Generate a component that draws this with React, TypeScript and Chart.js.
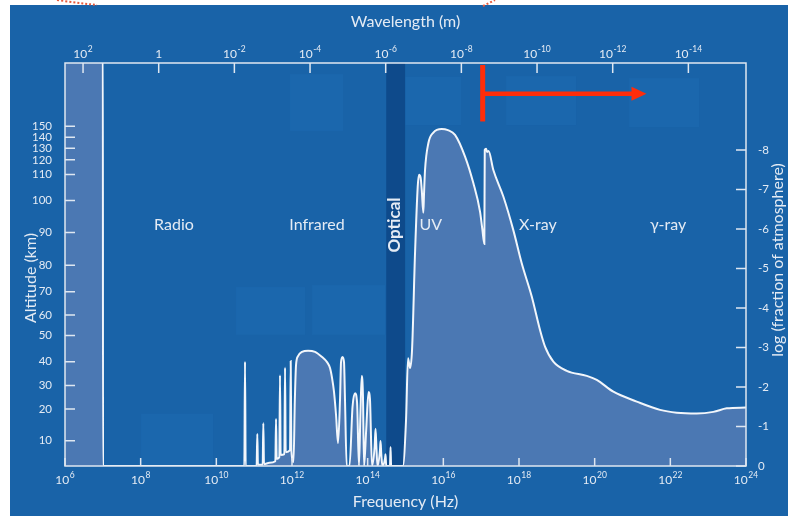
import React, { useEffect, useRef } from "react";
import { Chart, registerables } from "chart.js";

Chart.register(...registerables);

// ---------------- data ----------------
// log10 of frequency (Hz)
const logFrequency: number[] = [
  6.0, 7.0, 7.005, 10.74, 10.758, 10.776, 11.065, 11.083, 11.1, 11.225,
  11.242, 11.26, 11.4, 11.56, 11.578, 11.596, 11.665, 11.683, 11.7, 11.798,
  11.816, 11.834, 11.948, 11.966, 11.984, 12.04, 12.075, 12.107, 12.159, 12.265,
  12.424, 12.609, 12.794, 12.926, 13.005, 13.058, 13.111, 13.164, 13.217, 13.269,
  13.296, 13.335, 13.375, 13.401, 13.446, 13.52, 13.6, 13.666, 13.72, 13.77,
  13.81, 13.843, 13.875, 13.905, 13.96, 14.023, 14.06, 14.115, 14.185, 14.208,
  14.23, 14.26, 14.325, 14.34, 14.36, 14.39, 14.46, 14.472, 14.49, 14.59,
  14.605, 14.62, 14.93, 15.014, 15.067, 15.12, 15.173, 15.252, 15.323, 15.358,
  15.4, 15.429, 15.471, 15.49, 15.516, 15.604, 15.736, 15.958, 16.12, 16.309,
  16.574, 16.793, 16.97, 17.03, 17.084, 17.095, 17.129, 17.155, 17.195, 17.322,
  17.586, 17.85, 18.072, 18.337, 18.556, 18.688, 18.908, 19.262, 19.791, 20.055,
  20.494, 21.112, 21.728, 22.17, 22.698, 23.137, 23.492, 24.0,
];
// log10 of the fraction of the atmosphere above the absorbing altitude
const logFraction: number[] = [
  -11, -11, 0, 0, -2.64, 0, 0, -0.81, -0.03, -0.03,
  -1.08, -0.05, -0.08, -0.12, -1.19, -0.18, -0.22, -2.3, -0.28, -0.3,
  -2.49, -0.35, -0.4, -2.66, -0.4, -0.1, -1.67, -2.56, -2.78, -2.89,
  -2.92, -2.89, -2.76, -2.63, -2.48, -2.23, -1.87, -1.29, -0.58, -1.67,
  -2.63, -2.76, -2.63, -1.67, 0, 0, -1.5, -1.84, -1.6, 0,
  -1.4, -2.28, -1.8, 0, -0.9, -1.87, -1.7, 0, -0.5, -0.94,
  -0.5, 0, -0.4, -0.63, -0.3, 0, -0.2, -0.3, 0, 0,
  -0.48, 0, 0, -1.16, -2.73, -2.48, -2.94, -5.39, -7.07, -7.37,
  -7.3, -7.0, -6.41, -6.9, -7.49, -8.17, -8.44, -8.53, -8.5, -8.38,
  -7.83, -7.16, -6.44, -6.0, -5.62, -8.0, -8.03, -7.95, -7.97, -7.49,
  -6.82, -5.97, -5.13, -4.29, -3.44, -3.02, -2.64, -2.41, -2.28, -2.18,
  -1.88, -1.63, -1.42, -1.35, -1.33, -1.37, -1.46, -1.48,
];

const frequencyTickExponents = [6, 8, 10, 12, 14, 16, 18, 20, 22, 24];
const wavelengthTickExponents = [2, 0, -2, -4, -6, -8, -10, -12, -14];
const LOG_C = Math.log10(2.998e8);
const fractionTicks = [-8, -7, -6, -5, -4, -3, -2, -1, 0];
const altitudeTickLabels = [10, 20, 30, 40, 50, 60, 70, 80, 90, 100, 110, 120, 130, 140, 150];
const altitudeTickPositions = [
  -0.64, -1.44, -2.04, -2.64, -3.3, -3.82, -4.41, -5.08, -5.91, -6.72, -7.38, -7.75, -8.04, -8.32, -8.6,
];

const regionNames = ["Radio", "Infrared", "UV", "X-ray", "γ-ray"];
const regionLogFrequency = [8.88, 12.66, 15.67, 18.5, 21.94];
const regionLevel = -6.1;
const opticalBand = [14.49, 14.99];
const opticalLabelLogFrequency = 14.72;

const arrowStartLogFreq = 17.04;
const arrowEndLogFreq = 21.37;
const arrowLevel = -9.42;
const arrowBarBottom = -8.72;

// faint leftover boxes (decoration), in axis units
const faintBoxFreq = [
  [11.948, 13.349], [14.988, 16.468], [17.657, 19.508], [20.909, 22.759],
  [10.52, 12.344], [12.529, 14.459], [8.009, 9.912],
];
const faintBoxLevel = [
  [-9.92, -8.48], [-9.85, -8.63], [-9.87, -8.63], [-9.82, -8.58],
  [-4.53, -3.32], [-4.58, -3.32], [-1.32, 0],
];

// ---------------- style ----------------
const FONT = "Lato, 'Open Sans', sans-serif";
const BG = "#1963a8";
const BOX = "#1b67ad";
const FILL = "#4b78b3";
const BAND = "#0e4a8b";
const TEXT = "#e4ebf4";
const AXIS = "#dfe7f1";
const LINE = "#f2f6fb";
const RED = "#ff2d0a";

const SUP_RAISE = 6;

const backgroundPlugin = {
  id: "bgPanel",
  beforeDraw(chart: any) {
    const { ctx, width, height, chartArea: ca, scales } = chart;
    const xs = scales.x;
    const ys = scales.y;
    ctx.save();
    ctx.fillStyle = "#ffffff";
    ctx.fillRect(0, 0, width, height);
    ctx.fillStyle = BG;
    ctx.fillRect(10, 5, width - 10, height - 5);
    ctx.fillStyle = BOX;
    faintBoxFreq.forEach((f, i) => {
      const x1 = xs.getPixelForValue(f[0]);
      const x2 = xs.getPixelForValue(f[1]);
      const y1 = ys.getPixelForValue(faintBoxLevel[i][0]);
      const y2 = ys.getPixelForValue(faintBoxLevel[i][1]);
      ctx.fillRect(Math.min(x1, x2), Math.min(y1, y2), Math.abs(x2 - x1), Math.abs(y2 - y1));
    });
    const b1 = xs.getPixelForValue(opticalBand[0]);
    const b2 = xs.getPixelForValue(opticalBand[1]);
    ctx.fillStyle = BAND;
    ctx.fillRect(b1, ca.top, b2 - b1, ca.bottom - ca.top);
    // red dotted fragments in the margin
    ctx.strokeStyle = "#e85a3c";
    ctx.lineWidth = 2;
    ctx.setLineDash([2, 2]);
    ctx.beginPath();
    ctx.moveTo(57, 0);
    ctx.quadraticCurveTo(78, 3, 97, 5);
    ctx.moveTo(483, 6);
    ctx.lineTo(495, 0);
    ctx.stroke();
    ctx.restore();
  },
};

const overlayPlugin = {
  id: "overlay",
  afterDatasetsDraw(chart: any) {
    const { ctx, chartArea: ca, scales } = chart;
    const xs = scales.x;
    const xt = scales.x2;
    const yr = scales.y;
    const yl = scales.yAlt;
    ctx.save();

    // frame
    ctx.strokeStyle = AXIS;
    ctx.lineWidth = 1.5;
    ctx.strokeRect(ca.left, ca.top, ca.right - ca.left, ca.bottom - ca.top);

    // inward tick marks
    ctx.beginPath();
    xs.ticks.forEach((t: any) => {
      const p = xs.getPixelForValue(t.value);
      ctx.moveTo(p, ca.bottom);
      ctx.lineTo(p, ca.bottom - 8);
    });
    xt.ticks.forEach((t: any) => {
      const p = xt.getPixelForValue(t.value);
      ctx.moveTo(p, ca.top);
      ctx.lineTo(p, ca.top + 10);
    });
    yl.ticks.forEach((t: any) => {
      const p = yl.getPixelForValue(t.value);
      ctx.moveTo(ca.left, p);
      ctx.lineTo(ca.left + 10, p);
    });
    yr.ticks.forEach((t: any) => {
      const p = yr.getPixelForValue(t.value);
      ctx.moveTo(ca.right - 10, p);
      ctx.lineTo(ca.right, p);
    });
    ctx.stroke();

    // power-of-ten labels
    ctx.fillStyle = TEXT;
    const drawPow = (base: string, exp: string, cx: number, baseline: number) => {
      ctx.font = `12px ${FONT}`;
      const wb = ctx.measureText(base).width;
      ctx.font = `8.5px ${FONT}`;
      const we = exp ? ctx.measureText(exp).width + 0.5 : 0;
      const start = cx - (wb + we) / 2;
      ctx.textAlign = "left";
      ctx.textBaseline = "alphabetic";
      ctx.font = `12px ${FONT}`;
      ctx.fillText(base, start, baseline);
      if (exp) {
        ctx.font = `8.5px ${FONT}`;
        ctx.fillText(exp, start + wb + 0.5, baseline - SUP_RAISE);
      }
    };
    xs.ticks.forEach((t: any, i: number) => {
      drawPow("10", String(frequencyTickExponents[i]), xs.getPixelForValue(t.value), ca.bottom + 18);
    });
    xt.ticks.forEach((t: any, i: number) => {
      const e = wavelengthTickExponents[i];
      drawPow(e === 0 ? "1" : "10", e === 0 ? "" : String(e), xt.getPixelForValue(t.value), ca.top - 5);
    });

    // region labels
    ctx.textAlign = "center";
    ctx.textBaseline = "middle";
    ctx.font = `16px ${FONT}`;
    regionNames.forEach((n, i) => {
      ctx.fillText(n, xs.getPixelForValue(regionLogFrequency[i]), yr.getPixelForValue(regionLevel));
    });
    ctx.save();
    ctx.translate(xs.getPixelForValue(opticalLabelLogFrequency), yr.getPixelForValue(regionLevel));
    ctx.rotate(-Math.PI / 2);
    ctx.font = `bold 17px ${FONT}`;
    ctx.fillText("Optical", 0, 0);
    ctx.restore();

    // axis titles
    ctx.font = `16px ${FONT}`;
    const midX = (ca.left + ca.right) / 2;
    ctx.fillText("Wavelength (m)", midX, 22);
    ctx.fillText("Frequency (Hz)", midX, 502);
    ctx.save();
    ctx.translate(31, 278);
    ctx.rotate(-Math.PI / 2);
    ctx.fillText("Altitude (km)", 0, 0);
    ctx.restore();
    ctx.save();
    ctx.translate(778, 260);
    ctx.rotate(-Math.PI / 2);
    ctx.fillText("log (fraction of atmosphere)", 0, 0);
    ctx.restore();

    // red arrow
    const ax = xs.getPixelForValue(arrowStartLogFreq);
    const ay = yr.getPixelForValue(arrowLevel);
    const abot = yr.getPixelForValue(arrowBarBottom);
    const atip = xs.getPixelForValue(arrowEndLogFreq);
    ctx.strokeStyle = RED;
    ctx.fillStyle = RED;
    ctx.lineWidth = 5;
    ctx.beginPath();
    ctx.moveTo(ax, ca.top + 2);
    ctx.lineTo(ax, abot);
    ctx.stroke();
    ctx.lineWidth = 4.5;
    ctx.beginPath();
    ctx.moveTo(ax, ay);
    ctx.lineTo(atip - 12, ay);
    ctx.stroke();
    ctx.beginPath();
    ctx.moveTo(atip, ay);
    ctx.lineTo(atip - 15, ay - 7);
    ctx.lineTo(atip - 15, ay + 7);
    ctx.closePath();
    ctx.fill();

    ctx.restore();
  },
};

export default function App() {
  const ref = useRef<HTMLCanvasElement>(null);

  useEffect(() => {
    const canvas = ref.current;
    if (!canvas) return;
    const points = logFrequency.map((x, i) => ({ x, y: logFraction[i] }));
    const tickFont = { family: FONT, size: 11.5 };
    const chart = new Chart(canvas, {
      type: "line",
      data: {
        datasets: [
          {
            data: points,
            borderColor: LINE,
            borderWidth: 2,
            backgroundColor: FILL,
            fill: "origin",
            pointRadius: 0,
            cubicInterpolationMode: "monotone",
            xAxisID: "x",
            yAxisID: "y",
            clip: 0,
          } as any,
        ],
      },
      options: {
        responsive: false,
        animation: false,
        events: [],
        layout: { padding: 0 },
        plugins: { legend: { display: false }, tooltip: { enabled: false } },
        scales: {
          x: {
            type: "linear",
            position: "bottom",
            min: 6,
            max: 24,
            afterBuildTicks: (s: any) => {
              s.ticks = frequencyTickExponents.map((v) => ({ value: v }));
            },
            afterFit: (s: any) => {
              s.height = 50;
            },
            ticks: { display: false },
            grid: { display: false },
            border: { display: false },
          },
          x2: {
            type: "linear",
            position: "top",
            min: 6,
            max: 24,
            afterBuildTicks: (s: any) => {
              s.ticks = wavelengthTickExponents.map((e) => ({ value: LOG_C - e }));
            },
            afterFit: (s: any) => {
              s.height = 63;
            },
            ticks: { display: false },
            grid: { display: false },
            border: { display: false },
          },
          y: {
            type: "linear",
            position: "right",
            min: -10.2,
            max: 0,
            reverse: true,
            afterBuildTicks: (s: any) => {
              s.ticks = fractionTicks.map((v) => ({ value: v }));
            },
            afterFit: (s: any) => {
              s.width = 42;
            },
            ticks: {
              color: TEXT,
              font: tickFont,
              padding: 4,
              autoSkip: false,
              callback: (v: any) => String(v),
            },
            grid: { display: false },
            border: { display: false },
          },
          yAlt: {
            type: "linear",
            position: "left",
            min: -10.2,
            max: 0,
            reverse: true,
            afterBuildTicks: (s: any) => {
              s.ticks = altitudeTickPositions.map((v) => ({ value: v }));
            },
            afterFit: (s: any) => {
              s.width = 65;
            },
            ticks: {
              color: TEXT,
              font: tickFont,
              padding: 5,
              autoSkip: false,
              callback: (_v: any, i: number) => String(altitudeTickLabels[i]),
            },
            grid: { display: false },
            border: { display: false },
          },
        } as any,
      },
      plugins: [backgroundPlugin, overlayPlugin],
    });
    return () => chart.destroy();
  }, []);

  return (
    <canvas
      ref={ref}
      width={788}
      height={516}
      style={{ position: "fixed", left: 0, top: 0, display: "block" }}
    />
  );
}
